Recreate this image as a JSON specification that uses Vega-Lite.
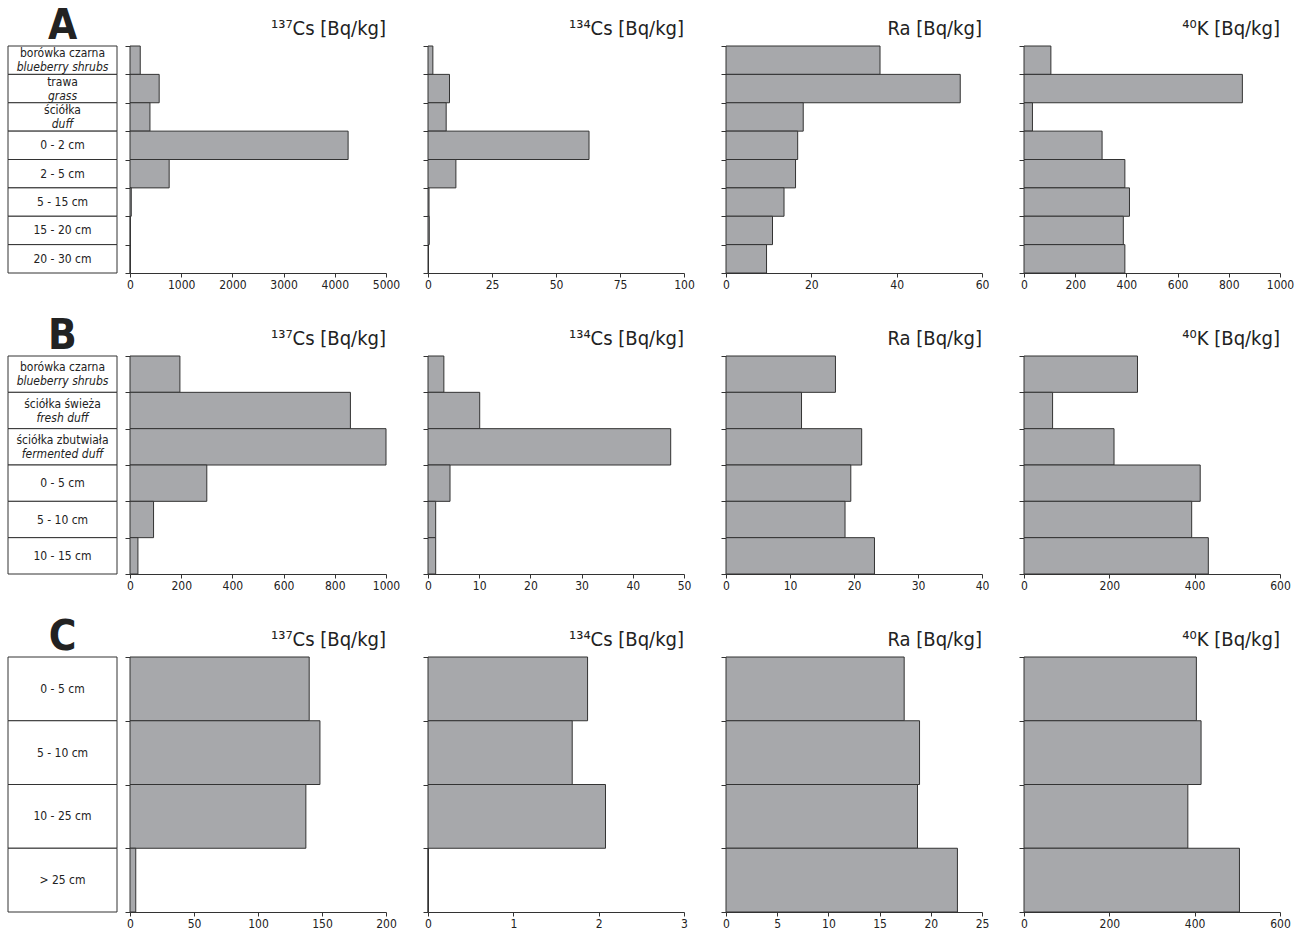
{
  "$schema": "https://vega.github.io/schema/vega-lite/v6.json",
  "padding": {"left": 7, "top": 4, "right": 5, "bottom": 2},
  "background": "white",
  "datasets": {
    "A": [
      {"pl": "borówka czarna", "en": "blueberry shrubs", "cs137": 200, "cs134": 1.9, "ra": 36.1, "k": 105},
      {"pl": "trawa", "en": "grass", "cs137": 570, "cs134": 8.4, "ra": 54.9, "k": 853},
      {"pl": "ściółka", "en": "duff", "cs137": 390, "cs134": 7.1, "ra": 18.1, "k": 33},
      {"pl": "0 - 2 cm", "en": "", "cs137": 4260, "cs134": 62.9, "ra": 16.8, "k": 305},
      {"pl": "2 - 5 cm", "en": "", "cs137": 765, "cs134": 10.9, "ra": 16.3, "k": 394},
      {"pl": "5 - 15 cm", "en": "", "cs137": 25, "cs134": 0.4, "ra": 13.6, "k": 412},
      {"pl": "15 - 20 cm", "en": "", "cs137": 5, "cs134": 0.5, "ra": 10.9, "k": 388},
      {"pl": "20 - 30 cm", "en": "", "cs137": 3, "cs134": 0.2, "ra": 9.5, "k": 394}
    ],
    "B": [
      {"pl": "borówka czarna", "en": "blueberry shrubs", "cs137": 195, "cs134": 3.1, "ra": 17.1, "k": 266},
      {"pl": "ściółka świeża", "en": "fresh duff", "cs137": 861, "cs134": 10.1, "ra": 11.8, "k": 67},
      {"pl": "ściółka zbutwiała", "en": "fermented duff", "cs137": 1000, "cs134": 47.4, "ra": 21.2, "k": 211},
      {"pl": "0 - 5 cm", "en": "", "cs137": 300, "cs134": 4.3, "ra": 19.5, "k": 413},
      {"pl": "5 - 10 cm", "en": "", "cs137": 92, "cs134": 1.5, "ra": 18.6, "k": 393},
      {"pl": "10 - 15 cm", "en": "", "cs137": 31, "cs134": 1.5, "ra": 23.2, "k": 432}
    ],
    "C": [
      {"pl": "0 - 5 cm", "en": "", "cs137": 140, "cs134": 1.87, "ra": 17.4, "k": 404},
      {"pl": "5 - 10 cm", "en": "", "cs137": 148.4, "cs134": 1.69, "ra": 18.9, "k": 415},
      {"pl": "10 - 25 cm", "en": "", "cs137": 137.4, "cs134": 2.08, "ra": 18.7, "k": 384},
      {"pl": "> 25 cm", "en": "", "cs137": 4.5, "cs134": 0, "ra": 22.6, "k": 505}
    ]
  },
  "spacing": 24,
  "vconcat": [
    {
      "bounds": "flush",
      "spacing": 13,
      "hconcat": [
        {
          "width": 109, "height": 227,
          "data": {"name": "A"},
          "title": {"text": "A", "fontSize": 42, "fontWeight": "bold", "anchor": "middle", "offset": -2},
          "encoding": {"y": {"field": "pl", "type": "nominal", "axis": null, "scale": {"domain": ["borówka czarna", "trawa", "ściółka", "0 - 2 cm", "2 - 5 cm", "5 - 15 cm", "15 - 20 cm", "20 - 30 cm"], "paddingInner": 0, "paddingOuter": 0}}},
          "layer": [
            {"mark": {"type": "rect", "fill": "white", "stroke": "#333", "strokeWidth": 1}, "encoding": {"x": {"value": 0}, "x2": {"value": "width"}}},
            {"transform": [{"filter": "datum.en != ''"}], "mark": {"type": "text", "dy": -7, "fontSize": 12}, "encoding": {"text": {"field": "pl"}}},
            {"transform": [{"filter": "datum.en != ''"}], "mark": {"type": "text", "dy": 7, "fontSize": 12, "fontStyle": "italic"}, "encoding": {"text": {"field": "en"}}},
            {"transform": [{"filter": "datum.en == ''"}], "mark": {"type": "text", "fontSize": 12}, "encoding": {"text": {"field": "pl"}}}
          ]
        },
        {
          "bounds": "flush",
          "spacing": 42,
          "hconcat": [
            {"width": 256, "height": 227, "data": {"name": "A"}, "title": "¹³⁷Cs [Bq/kg]", "mark": "bar",
             "encoding": {"y": {"field": "pl", "type": "nominal", "sort": null, "scale": {"paddingInner": 0, "paddingOuter": 0}, "axis": {"labels": false, "tickBand": "extent", "tickSize": 5, "title": null}},
                          "x": {"field": "cs137", "type": "quantitative", "scale": {"domain": [0, 5000], "nice": false}, "axis": {"values": [0, 1000, 2000, 3000, 4000, 5000]}}}},
            {"width": 256, "height": 227, "data": {"name": "A"}, "title": "¹³⁴Cs [Bq/kg]", "mark": "bar",
             "encoding": {"y": {"field": "pl", "type": "nominal", "sort": null, "scale": {"paddingInner": 0, "paddingOuter": 0}, "axis": {"labels": false, "tickBand": "extent", "tickSize": 5, "title": null}},
                          "x": {"field": "cs134", "type": "quantitative", "scale": {"domain": [0, 100], "nice": false}, "axis": {"values": [0, 25, 50, 75, 100]}}}},
            {"width": 256, "height": 227, "data": {"name": "A"}, "title": "Ra [Bq/kg]", "mark": "bar",
             "encoding": {"y": {"field": "pl", "type": "nominal", "sort": null, "scale": {"paddingInner": 0, "paddingOuter": 0}, "axis": {"labels": false, "tickBand": "extent", "tickSize": 5, "title": null}},
                          "x": {"field": "ra", "type": "quantitative", "scale": {"domain": [0, 60], "nice": false}, "axis": {"values": [0, 20, 40, 60]}}}},
            {"width": 256, "height": 227, "data": {"name": "A"}, "title": "⁴⁰K [Bq/kg]", "mark": "bar",
             "encoding": {"y": {"field": "pl", "type": "nominal", "sort": null, "scale": {"paddingInner": 0, "paddingOuter": 0}, "axis": {"labels": false, "tickBand": "extent", "tickSize": 5, "title": null}},
                          "x": {"field": "k", "type": "quantitative", "scale": {"domain": [0, 1000], "nice": false}, "axis": {"values": [0, 200, 400, 600, 800, 1000]}}}}
          ]
        }
      ]
    },
    {
      "bounds": "flush",
      "spacing": 13,
      "hconcat": [
        {
          "width": 109, "height": 218,
          "data": {"name": "B"},
          "title": {"text": "B", "fontSize": 42, "fontWeight": "bold", "anchor": "middle", "offset": -2},
          "encoding": {"y": {"field": "pl", "type": "nominal", "axis": null, "scale": {"domain": ["borówka czarna", "ściółka świeża", "ściółka zbutwiała", "0 - 5 cm", "5 - 10 cm", "10 - 15 cm"], "paddingInner": 0, "paddingOuter": 0}}},
          "layer": [
            {"mark": {"type": "rect", "fill": "white", "stroke": "#333", "strokeWidth": 1}, "encoding": {"x": {"value": 0}, "x2": {"value": "width"}}},
            {"transform": [{"filter": "datum.en != ''"}], "mark": {"type": "text", "dy": -7, "fontSize": 12}, "encoding": {"text": {"field": "pl"}}},
            {"transform": [{"filter": "datum.en != ''"}], "mark": {"type": "text", "dy": 7, "fontSize": 12, "fontStyle": "italic"}, "encoding": {"text": {"field": "en"}}},
            {"transform": [{"filter": "datum.en == ''"}], "mark": {"type": "text", "fontSize": 12}, "encoding": {"text": {"field": "pl"}}}
          ]
        },
        {
          "bounds": "flush",
          "spacing": 42,
          "hconcat": [
            {"width": 256, "height": 218, "data": {"name": "B"}, "title": "¹³⁷Cs [Bq/kg]", "mark": "bar",
             "encoding": {"y": {"field": "pl", "type": "nominal", "sort": null, "scale": {"paddingInner": 0, "paddingOuter": 0}, "axis": {"labels": false, "tickBand": "extent", "tickSize": 5, "title": null}},
                          "x": {"field": "cs137", "type": "quantitative", "scale": {"domain": [0, 1000], "nice": false}, "axis": {"values": [0, 200, 400, 600, 800, 1000]}}}},
            {"width": 256, "height": 218, "data": {"name": "B"}, "title": "¹³⁴Cs [Bq/kg]", "mark": "bar",
             "encoding": {"y": {"field": "pl", "type": "nominal", "sort": null, "scale": {"paddingInner": 0, "paddingOuter": 0}, "axis": {"labels": false, "tickBand": "extent", "tickSize": 5, "title": null}},
                          "x": {"field": "cs134", "type": "quantitative", "scale": {"domain": [0, 50], "nice": false}, "axis": {"values": [0, 10, 20, 30, 40, 50]}}}},
            {"width": 256, "height": 218, "data": {"name": "B"}, "title": "Ra [Bq/kg]", "mark": "bar",
             "encoding": {"y": {"field": "pl", "type": "nominal", "sort": null, "scale": {"paddingInner": 0, "paddingOuter": 0}, "axis": {"labels": false, "tickBand": "extent", "tickSize": 5, "title": null}},
                          "x": {"field": "ra", "type": "quantitative", "scale": {"domain": [0, 40], "nice": false}, "axis": {"values": [0, 10, 20, 30, 40]}}}},
            {"width": 256, "height": 218, "data": {"name": "B"}, "title": "⁴⁰K [Bq/kg]", "mark": "bar",
             "encoding": {"y": {"field": "pl", "type": "nominal", "sort": null, "scale": {"paddingInner": 0, "paddingOuter": 0}, "axis": {"labels": false, "tickBand": "extent", "tickSize": 5, "title": null}},
                          "x": {"field": "k", "type": "quantitative", "scale": {"domain": [0, 600], "nice": false}, "axis": {"values": [0, 200, 400, 600]}}}}
          ]
        }
      ]
    },
    {
      "bounds": "flush",
      "spacing": 13,
      "hconcat": [
        {
          "width": 109, "height": 255,
          "data": {"name": "C"},
          "title": {"text": "C", "fontSize": 42, "fontWeight": "bold", "anchor": "middle", "offset": -2},
          "encoding": {"y": {"field": "pl", "type": "nominal", "axis": null, "scale": {"domain": ["0 - 5 cm", "5 - 10 cm", "10 - 25 cm", "> 25 cm"], "paddingInner": 0, "paddingOuter": 0}}},
          "layer": [
            {"mark": {"type": "rect", "fill": "white", "stroke": "#333", "strokeWidth": 1}, "encoding": {"x": {"value": 0}, "x2": {"value": "width"}}},
            {"mark": {"type": "text", "fontSize": 12}, "encoding": {"text": {"field": "pl"}}}
          ]
        },
        {
          "bounds": "flush",
          "spacing": 42,
          "hconcat": [
            {"width": 256, "height": 255, "data": {"name": "C"}, "title": "¹³⁷Cs [Bq/kg]", "mark": "bar",
             "encoding": {"y": {"field": "pl", "type": "nominal", "sort": null, "scale": {"paddingInner": 0, "paddingOuter": 0}, "axis": {"labels": false, "tickBand": "extent", "tickSize": 5, "title": null}},
                          "x": {"field": "cs137", "type": "quantitative", "scale": {"domain": [0, 200], "nice": false}, "axis": {"values": [0, 50, 100, 150, 200]}}}},
            {"width": 256, "height": 255, "data": {"name": "C"}, "title": "¹³⁴Cs [Bq/kg]", "mark": "bar",
             "encoding": {"y": {"field": "pl", "type": "nominal", "sort": null, "scale": {"paddingInner": 0, "paddingOuter": 0}, "axis": {"labels": false, "tickBand": "extent", "tickSize": 5, "title": null}},
                          "x": {"field": "cs134", "type": "quantitative", "scale": {"domain": [0, 3], "nice": false}, "axis": {"values": [0, 1, 2, 3]}}}},
            {"width": 256, "height": 255, "data": {"name": "C"}, "title": "Ra [Bq/kg]", "mark": "bar",
             "encoding": {"y": {"field": "pl", "type": "nominal", "sort": null, "scale": {"paddingInner": 0, "paddingOuter": 0}, "axis": {"labels": false, "tickBand": "extent", "tickSize": 5, "title": null}},
                          "x": {"field": "ra", "type": "quantitative", "scale": {"domain": [0, 25], "nice": false}, "axis": {"values": [0, 5, 10, 15, 20, 25]}}}},
            {"width": 256, "height": 255, "data": {"name": "C"}, "title": "⁴⁰K [Bq/kg]", "mark": "bar",
             "encoding": {"y": {"field": "pl", "type": "nominal", "sort": null, "scale": {"paddingInner": 0, "paddingOuter": 0}, "axis": {"labels": false, "tickBand": "extent", "tickSize": 5, "title": null}},
                          "x": {"field": "k", "type": "quantitative", "scale": {"domain": [0, 600], "nice": false}, "axis": {"values": [0, 200, 400, 600]}}}}
          ]
        }
      ]
    }
  ],
  "config": {
    "font": "Liberation Sans Narrow, DejaVu Sans Condensed, sans-serif",
    "view": {"stroke": null},
    "title": {"anchor": "end", "frame": "group", "fontSize": 20, "fontWeight": "normal", "color": "#222", "baseline": "alphabetic", "offset": 7, "font": "Liberation Sans Narrow, DejaVu Sans Condensed, sans-serif"},
    "axis": {"domainColor": "#333", "tickColor": "#333", "labelColor": "#222", "labelFontSize": 12, "grid": false, "title": null, "labelPadding": 2, "format": "d", "labelFlush": false, "labelOverlap": false, "labelFont": "Liberation Sans Narrow, DejaVu Sans Condensed, sans-serif"},
    "axisX": {"tickSize": 4},
    "bar": {"fill": "#a7a8ab", "stroke": "#333", "strokeWidth": 1},
    "text": {"color": "#222"}
  }
}
